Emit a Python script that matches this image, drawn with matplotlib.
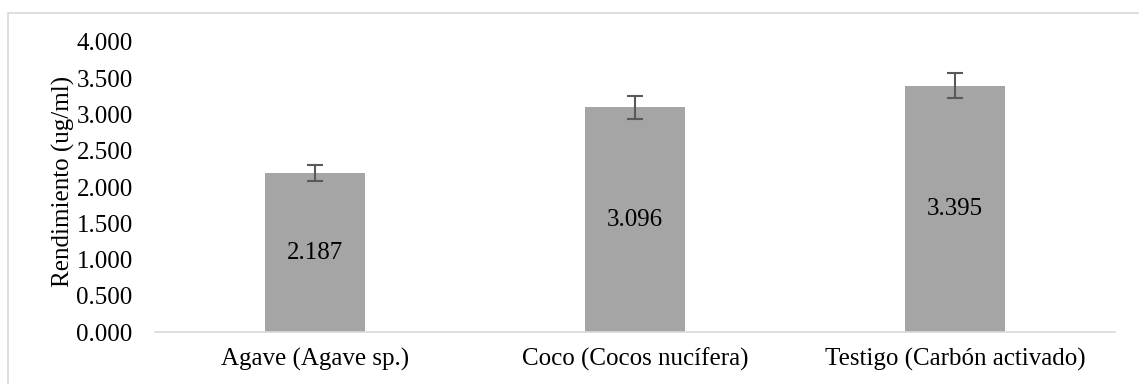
"""
Rendimiento por tipo de carbón, barras con error
"""
import numpy as np
import matplotlib
matplotlib.use("Agg")
import matplotlib.pyplot as plt
from matplotlib.patches import Rectangle

categories = ["Agave (Agave sp.)", "Coco (Cocos nucífera)", "Testigo (Carbón activado)"]
values = [2.187, 3.096, 3.395]
errors = [0.11, 0.16, 0.17]
yticks = [0.0, 0.5, 1.0, 1.5, 2.0, 2.5, 3.0, 3.5, 4.0]

plt.rcParams["font.family"] = ["Liberation Serif", "DejaVu Serif"]

fig = plt.figure(figsize=(11.39, 3.84), dpi=100)
ax = fig.add_axes([0.136, 0.135, 0.843, 0.756])

x = np.arange(len(categories))
ax.bar(x, values, width=0.3125, color="#a5a5a5", zorder=2)
ax.errorbar(x, values, yerr=errors, fmt="none", ecolor="#595959",
            elinewidth=1.5, capsize=6, capthick=1.5, zorder=3)

for xi, v in zip(x, values):
    ax.text(xi, v / 2, f"{v:.3f}", ha="center", va="center", fontsize=18, color="#000000")

ax.set_xlim(-0.5, len(categories) - 0.5)
ax.set_ylim(0, 4)
ax.set_yticks(yticks)
ax.set_yticklabels([f"{t:.3f}" for t in yticks])
ax.set_xticks(x)
ax.set_xticklabels(categories, fontsize=17.5)
ax.tick_params(axis="both", length=0, labelsize=18, colors="#000000")
ax.tick_params(axis="y", pad=16)
ax.tick_params(axis="x", pad=11)
ax.set_ylabel("Rendimiento (ug/ml)", fontsize=18, labelpad=2)
ax.yaxis.set_label_coords(-0.083, 0.52)

for side in ["top", "right", "left"]:
    ax.spines[side].set_visible(False)
ax.spines["bottom"].set_color("#d9d9d9")
ax.spines["bottom"].set_linewidth(1.2)

# chart area border (runs past the right and bottom edges)
fig.patches.append(Rectangle((8 / 1139, -10 / 384), 1150 / 1139, 381 / 384,
                             transform=fig.transFigure, fill=False,
                             edgecolor="#d9d9d9", linewidth=1.2))

fig.savefig("out.png", dpi=100)
